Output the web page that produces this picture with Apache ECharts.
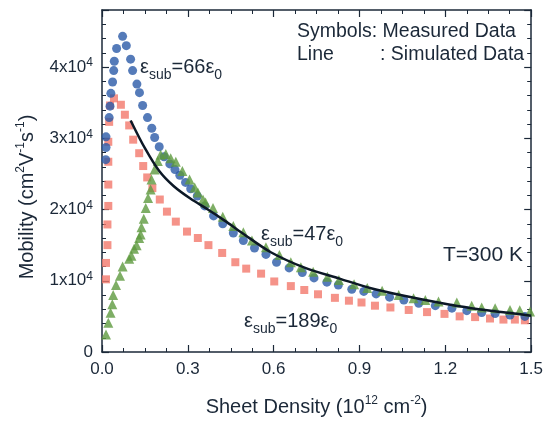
<!DOCTYPE html>
<html>
<head>
<meta charset="utf-8">
<script src="https://cdn.jsdelivr.net/npm/echarts@6/dist/echarts.min.js"></script>
<style>
  html, body { margin: 0; padding: 0; background: #fff; }
  #main { width: 546px; height: 422px; }
</style>
</head>
<body>
<div id="main"></div>
<script>
const FONT = '"Liberation Sans", Arial, sans-serif';
const INK = '#1b2838';

// sheet density in 1e12 cm^-2, mobility in cm^2/Vs
// eps_sub = 66 eps_0 (blue circles)
const blueDensity = [0.013, 0.014, 0.014, 0.025, 0.028, 0.031, 0.037, 0.041, 0.043, 0.051, 0.072, 0.085,
  0.100, 0.107, 0.122, 0.131, 0.142, 0.159, 0.174, 0.184, 0.200, 0.217, 0.237, 0.255, 0.272, 0.292,
  0.310, 0.333, 0.359, 0.390, 0.422, 0.459, 0.494, 0.533, 0.573, 0.610, 0.654, 0.700, 0.741, 0.786,
  0.826, 0.873, 0.915, 0.958, 1.005, 1.055, 1.107, 1.165, 1.223, 1.275, 1.327, 1.374, 1.426, 1.478];
const blueMobility = [27000, 28700, 30200, 32900, 34500, 36300, 37900, 39500, 40800, 42600, 44300, 43000,
  41100, 39500, 37600, 36400, 34600, 32900, 31400, 30100, 28800, 27400, 26400, 25600, 24800, 23800,
  22900, 21900, 20500, 19100, 18000, 16700, 15650, 14600, 13700, 12600, 11800, 11150, 10400, 9800,
  9400, 8800, 8500, 8150, 7700, 7300, 6850, 6500, 6150, 5800, 5550, 5400, 5200, 5000];

// eps_sub = 47 eps_0 (green triangles)
const greenDensity = [0.014, 0.022, 0.030, 0.036, 0.039, 0.049, 0.063, 0.072, 0.095, 0.103, 0.112, 0.121,
  0.130, 0.135, 0.138, 0.146, 0.153, 0.161, 0.170, 0.173, 0.184, 0.195, 0.205, 0.223, 0.240, 0.258,
  0.281, 0.306, 0.324, 0.335, 0.353, 0.362, 0.388, 0.422, 0.459, 0.494, 0.524, 0.573, 0.620, 0.660,
  0.695, 0.738, 0.788, 0.828, 0.881, 0.927, 0.979, 1.037, 1.089, 1.130, 1.176, 1.240, 1.292, 1.327,
  1.374, 1.426, 1.460, 1.496];
const greenMobility = [2450, 4100, 5500, 6700, 8000, 9400, 10700, 12000, 13100, 13500, 14500, 15000,
  16000, 16500, 17500, 18700, 20200, 21600, 22800, 24200, 25600, 26800, 27700, 27800, 27200, 26700,
  25400, 24200, 23100, 22400, 21400, 21000, 20200, 19000, 17700, 16800, 15650, 14700, 13600, 12600,
  11900, 11250, 10550, 10100, 9500, 9000, 8600, 8000, 7550, 7300, 7100, 6950, 6500, 6250,
  6150, 5900, 5850, 5700];

// eps_sub = 189 eps_0 (red squares)
const redDensity = [0.014, 0.014, 0.019, 0.019, 0.022, 0.022, 0.022, 0.022, 0.025, 0.028, 0.042, 0.066,
  0.080, 0.095, 0.109, 0.130, 0.144, 0.158, 0.176, 0.202, 0.227, 0.258, 0.297, 0.335, 0.372, 0.420,
  0.466, 0.504, 0.556, 0.602, 0.660, 0.707, 0.755, 0.814, 0.863, 0.907, 0.954, 1.008, 1.072, 1.136,
  1.197, 1.250, 1.304, 1.356, 1.403, 1.443, 1.478];
const redMobility = [10200, 12500, 15000, 17900, 20500, 23500, 26700, 29500, 32300, 34600, 35600, 34700,
  33300, 31800, 29800, 27900, 26100, 24500, 23000, 21400, 19700, 18300, 16900, 16000, 15000, 13900,
  12600, 11700, 11000, 9900, 9250, 8700, 8100, 7600, 7200, 6950, 6500, 6250, 5900, 5600,
  5350, 5000, 4900, 4700, 4550, 4550, 4450];

// simulated curve (black line)
const simDensity = [0.10, 0.15, 0.20, 0.25, 0.31, 0.37, 0.43, 0.49, 0.59, 0.71, 0.83, 0.94, 1.06,
  1.18, 1.29, 1.41, 1.50];
const simMobility = [32500, 28600, 25400, 23300, 21500, 20000, 18400, 16700, 14000, 11800, 10300, 8950,
  7850, 6900, 6150, 5550, 5100];

const xTicks = [0, 0.3, 0.6, 0.9, 1.2, 1.5];

const zip = (xs, ys) => xs.map((x, i) => [x, ys[i]]);

const chart = echarts.init(document.getElementById('main'), null, { renderer: 'canvas' });

const frameAxis = {
  axisLine: { show: true, onZero: false, lineStyle: { color: INK, width: 1.5 } },
  axisTick: { show: true, inside: true, length: 7, lineStyle: { color: INK, width: 1.2 } },
  minorTick: { show: true, length: 4, lineStyle: { color: INK, width: 1 } },
  splitLine: { show: false },
  minorSplitLine: { show: false }
};

const supRich = {
  a: { fontSize: 20, fontFamily: FONT, color: INK, lineHeight: 24 },
  s: { fontSize: 12, fontFamily: FONT, color: INK, lineHeight: 12, verticalAlign: 'top' }
};

function epsLabel(x, y, num) {
  return {
    type: 'text', x: x, y: y, silent: true,
    style: {
      text: '{e|ε}{s|sub}{e|=' + num + 'ε}{s|0}',
      verticalAlign: 'middle',
      rich: {
        e: { fontSize: 20, fontFamily: FONT, fill: INK, lineHeight: 30 },
        s: { fontSize: 14, fontFamily: FONT, fill: INK, lineHeight: 14, verticalAlign: 'bottom' }
      }
    }
  };
}

function plainText(x, y, text, size) {
  return {
    type: 'text', x: x, y: y, silent: true,
    style: { text: text, font: size + 'px ' + FONT, fill: INK, verticalAlign: 'middle' }
  };
}

const option = {
  animation: false,
  backgroundColor: '#fff',
  grid: { left: 102, right: 12, top: 10, bottom: 64 },
  xAxis: [
    Object.assign({}, frameAxis, {
      type: 'value', position: 'bottom', min: 0, max: 1.5, interval: 0.3,
      minorTick: Object.assign({}, frameAxis.minorTick, { splitNumber: 4 }),
      axisLabel: {
        fontSize: 17, fontFamily: FONT, color: INK, margin: 9,
        formatter: v => xTicks.some(t => Math.abs(t - v) < 1e-6) ? v.toFixed(1) : ''
      },
      name: '{a|Sheet Density (10}{s|12}{a| cm}{s|-2}{a|)}',
      nameLocation: 'middle', nameGap: 43,
      nameTextStyle: { rich: supRich }
    }),
    Object.assign({}, frameAxis, {
      type: 'value', position: 'top', min: 0, max: 1.5, interval: 0.3,
      minorTick: Object.assign({}, frameAxis.minorTick, { splitNumber: 4 }),
      axisLabel: { show: false }
    })
  ],
  yAxis: [
    Object.assign({}, frameAxis, {
      type: 'value', position: 'left', min: 0, max: 48000, interval: 10000,
      minorTick: Object.assign({}, frameAxis.minorTick, { splitNumber: 5 }),
      axisLabel: {
        margin: 9,
        formatter: v => v === 0 ? '{b|0}' : (v % 10000 === 0 ? '{b|' + (v / 10000) + 'x10}{s|4}' : ''),
        rich: {
          b: { fontSize: 17, fontFamily: FONT, color: INK, lineHeight: 20 },
          s: { fontSize: 12, fontFamily: FONT, color: INK, lineHeight: 12, verticalAlign: 'top' }
        }
      }
    }),
    Object.assign({}, frameAxis, {
      type: 'value', position: 'right', min: 0, max: 48000, interval: 10000,
      minorTick: Object.assign({}, frameAxis.minorTick, { splitNumber: 5 }),
      axisLabel: { show: false }
    })
  ],
  series: [
    {
      name: 'eps189', type: 'scatter', symbol: 'rect', symbolSize: 8,
      itemStyle: { color: '#f3786b' }, data: zip(redDensity, redMobility)
    },
    {
      name: 'eps66', type: 'scatter', symbol: 'circle', symbolSize: 9,
      itemStyle: { color: '#2a5aa8' }, data: zip(blueDensity, blueMobility)
    },
    {
      name: 'eps47', type: 'scatter', symbol: 'triangle', symbolSize: 10,
      itemStyle: { color: '#5e9a3e' }, data: zip(greenDensity, greenMobility)
    },
    {
      name: 'sim', type: 'line', smooth: 0.3, showSymbol: false,
      lineStyle: { color: '#0c1826', width: 2.5 }, data: zip(simDensity, simMobility), z: 5
    }
  ],
  graphic: [
    plainText(297, 32, 'Symbols: Measured Data', 19.5),
    plainText(297, 55, 'Line', 19.5),
    plainText(380, 55, ': Simulated Data', 19.5),
    plainText(443, 255, 'T=300 K', 21),
    epsLabel(140, 67, '66'),
    epsLabel(261, 234, '47'),
    epsLabel(244, 321, '189'),
    {
      type: 'text', x: 27, y: 197, rotation: Math.PI / 2, silent: true,
      style: {
        text: '{a|Mobility (cm}{s|2}{a|V}{s|-1}{a|s}{s|-1}{a|)}',
        align: 'center', verticalAlign: 'middle',
        rich: {
          a: { fontSize: 20, fontFamily: FONT, fill: INK, lineHeight: 24 },
          s: { fontSize: 12, fontFamily: FONT, fill: INK, lineHeight: 12, verticalAlign: 'top' }
        }
      }
    }
  ]
};

chart.setOption(option);
</script>
</body>
</html>
